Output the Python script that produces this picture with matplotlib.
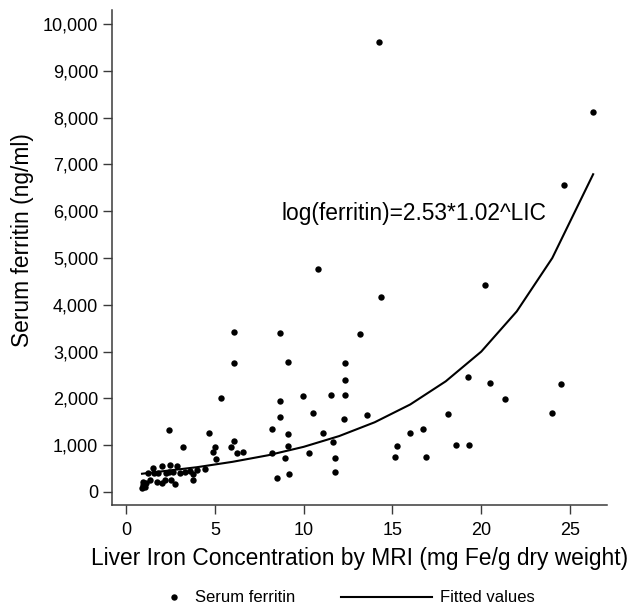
import matplotlib
matplotlib.use("Agg")
import matplotlib.pyplot as plt
from matplotlib.lines import Line2D

plt.rcParams['font.family'] = ['Liberation Sans', 'DejaVu Sans']

# liver iron (mg Fe/g) vs serum ferritin (ng/ml)
lic = [0.90, 0.94, 0.98, 1.13, 1.07, 1.22, 1.35, 1.50, 1.59, 1.73, 2.01, 2.01,
       1.82, 2.25, 2.20, 2.48, 2.52, 2.76, 2.66, 2.89, 3.04, 3.34, 3.60, 3.75,
       3.79, 3.98, 4.47, 2.42,
       2.40, 3.19, 4.67, 5.01, 4.88, 5.07, 5.35, 5.89, 6.10, 6.27, 6.57, 6.10,
       6.10, 8.20, 8.24, 8.50, 8.67, 8.67, 8.67, 8.97, 9.10, 9.10, 9.10, 9.16,
       9.98, 10.30, 10.55, 11.07, 11.54, 11.67, 11.75, 11.75, 12.29, 12.33,
       12.33, 12.33, 13.18, 13.55, 15.16, 15.24, 15.97, 16.71, 16.87, 18.15,
       18.58, 19.33, 19.27,
       10.79, 14.26, 14.36, 20.21, 20.50, 21.36, 24.00, 24.49, 24.66, 26.27]
ferritin = [78, 150, 220, 200, 114, 413, 257, 506, 399, 220, 563, 185,
            399, 399, 257, 577, 257, 164, 434, 563, 399, 434, 455, 385,
            257, 470, 485, 434,
            1326, 962, 1254, 962, 862, 706, 2016, 962, 1098, 827, 848, 3427,
            2765, 827, 1347, 292, 3406, 1946, 1597, 734, 2786, 1234, 983, 391,
            2053, 841, 1682, 1254, 2074, 1076, 734, 434, 1554, 2074,
            2388, 2765, 3378, 1640, 755, 983, 1254, 1347, 755, 1668,
            1005, 1005, 2466,
            4775, 9615, 4176, 4426, 2324, 1988, 1682, 2302, 6557, 8110]

# fitted curve
fit_lic = [0.9, 2, 4, 6, 8, 10, 12, 14, 16, 18, 20, 22, 24, 26.3]
fit_val = [390, 440, 530, 645, 785, 965, 1195, 1490, 1870, 2365, 3000, 3860, 5000, 6790]

yticks = [0, 1000, 2000, 3000, 4000, 5000, 6000, 7000, 8000, 9000, 10000]
ylabels = ["0", "1,000", "2,000", "3,000", "4,000", "5,000", "6,000",
           "7,000", "8,000", "9,000", "10,000"]
xticks = [0, 5, 10, 15, 20, 25]

axcol = '#3a3a3a'

fig = plt.figure(figsize=(6.34, 6.07), dpi=100)
ax = fig.add_axes([112/634, 1 - 505/607, (607-112)/634, (505-10)/607])

ax.plot(lic, ferritin, 'o', color='black', ms=4.6, mec='black', mew=0)
ax.plot(fit_lic, fit_val, '-', color='black', lw=1.5)

ax.text(8.78, 5816, "log(ferritin)=2.53*1.02^LIC", fontsize=16.4,
        ha='left', va='baseline')

ax.set_xlim(-0.79, 27.08)
ax.set_ylim(-278, 10300)
ax.set_xticks(xticks)
ax.set_yticks(yticks)
ax.set_yticklabels(ylabels)

for s in ['top', 'right']:
    ax.spines[s].set_visible(False)
for s in ['left', 'bottom']:
    ax.spines[s].set_color(axcol)
    ax.spines[s].set_linewidth(1.1)
ax.tick_params(axis='both', colors=axcol, labelcolor='black', length=6.5,
               width=1.0, labelsize=13)
ax.tick_params(axis='x', pad=5.5)
ax.tick_params(axis='y', pad=3.5)

ax.set_xlabel("Liver Iron Concentration by MRI (mg Fe/g dry weight)", fontsize=16.4)
ax.set_ylabel("Serum ferritin (ng/ml)", fontsize=16.4)
ax.xaxis.set_label_coords(0.5, -0.085)
ax.yaxis.set_label_coords(-0.157, 0.535)

h1 = Line2D([], [], ls='none', marker='o', color='black', ms=4.6, mew=0)
h2 = Line2D([], [], ls='-', color='black', lw=1.5)
leg1 = fig.legend([h1], ["Serum ferritin"], loc='center left', frameon=False,
                  bbox_to_anchor=(166/634, 1 - 598/607), fontsize=12,
                  handlelength=1.0, handletextpad=0.72, borderpad=0,
                  borderaxespad=0)
leg2 = fig.legend([h2], ["Fitted values"], loc='center left', frameon=False,
                  bbox_to_anchor=(341/634, 1 - 598/607), fontsize=12,
                  handlelength=5.45, handletextpad=0.48, borderpad=0,
                  borderaxespad=0)

fig.savefig("out.png", dpi=100)
